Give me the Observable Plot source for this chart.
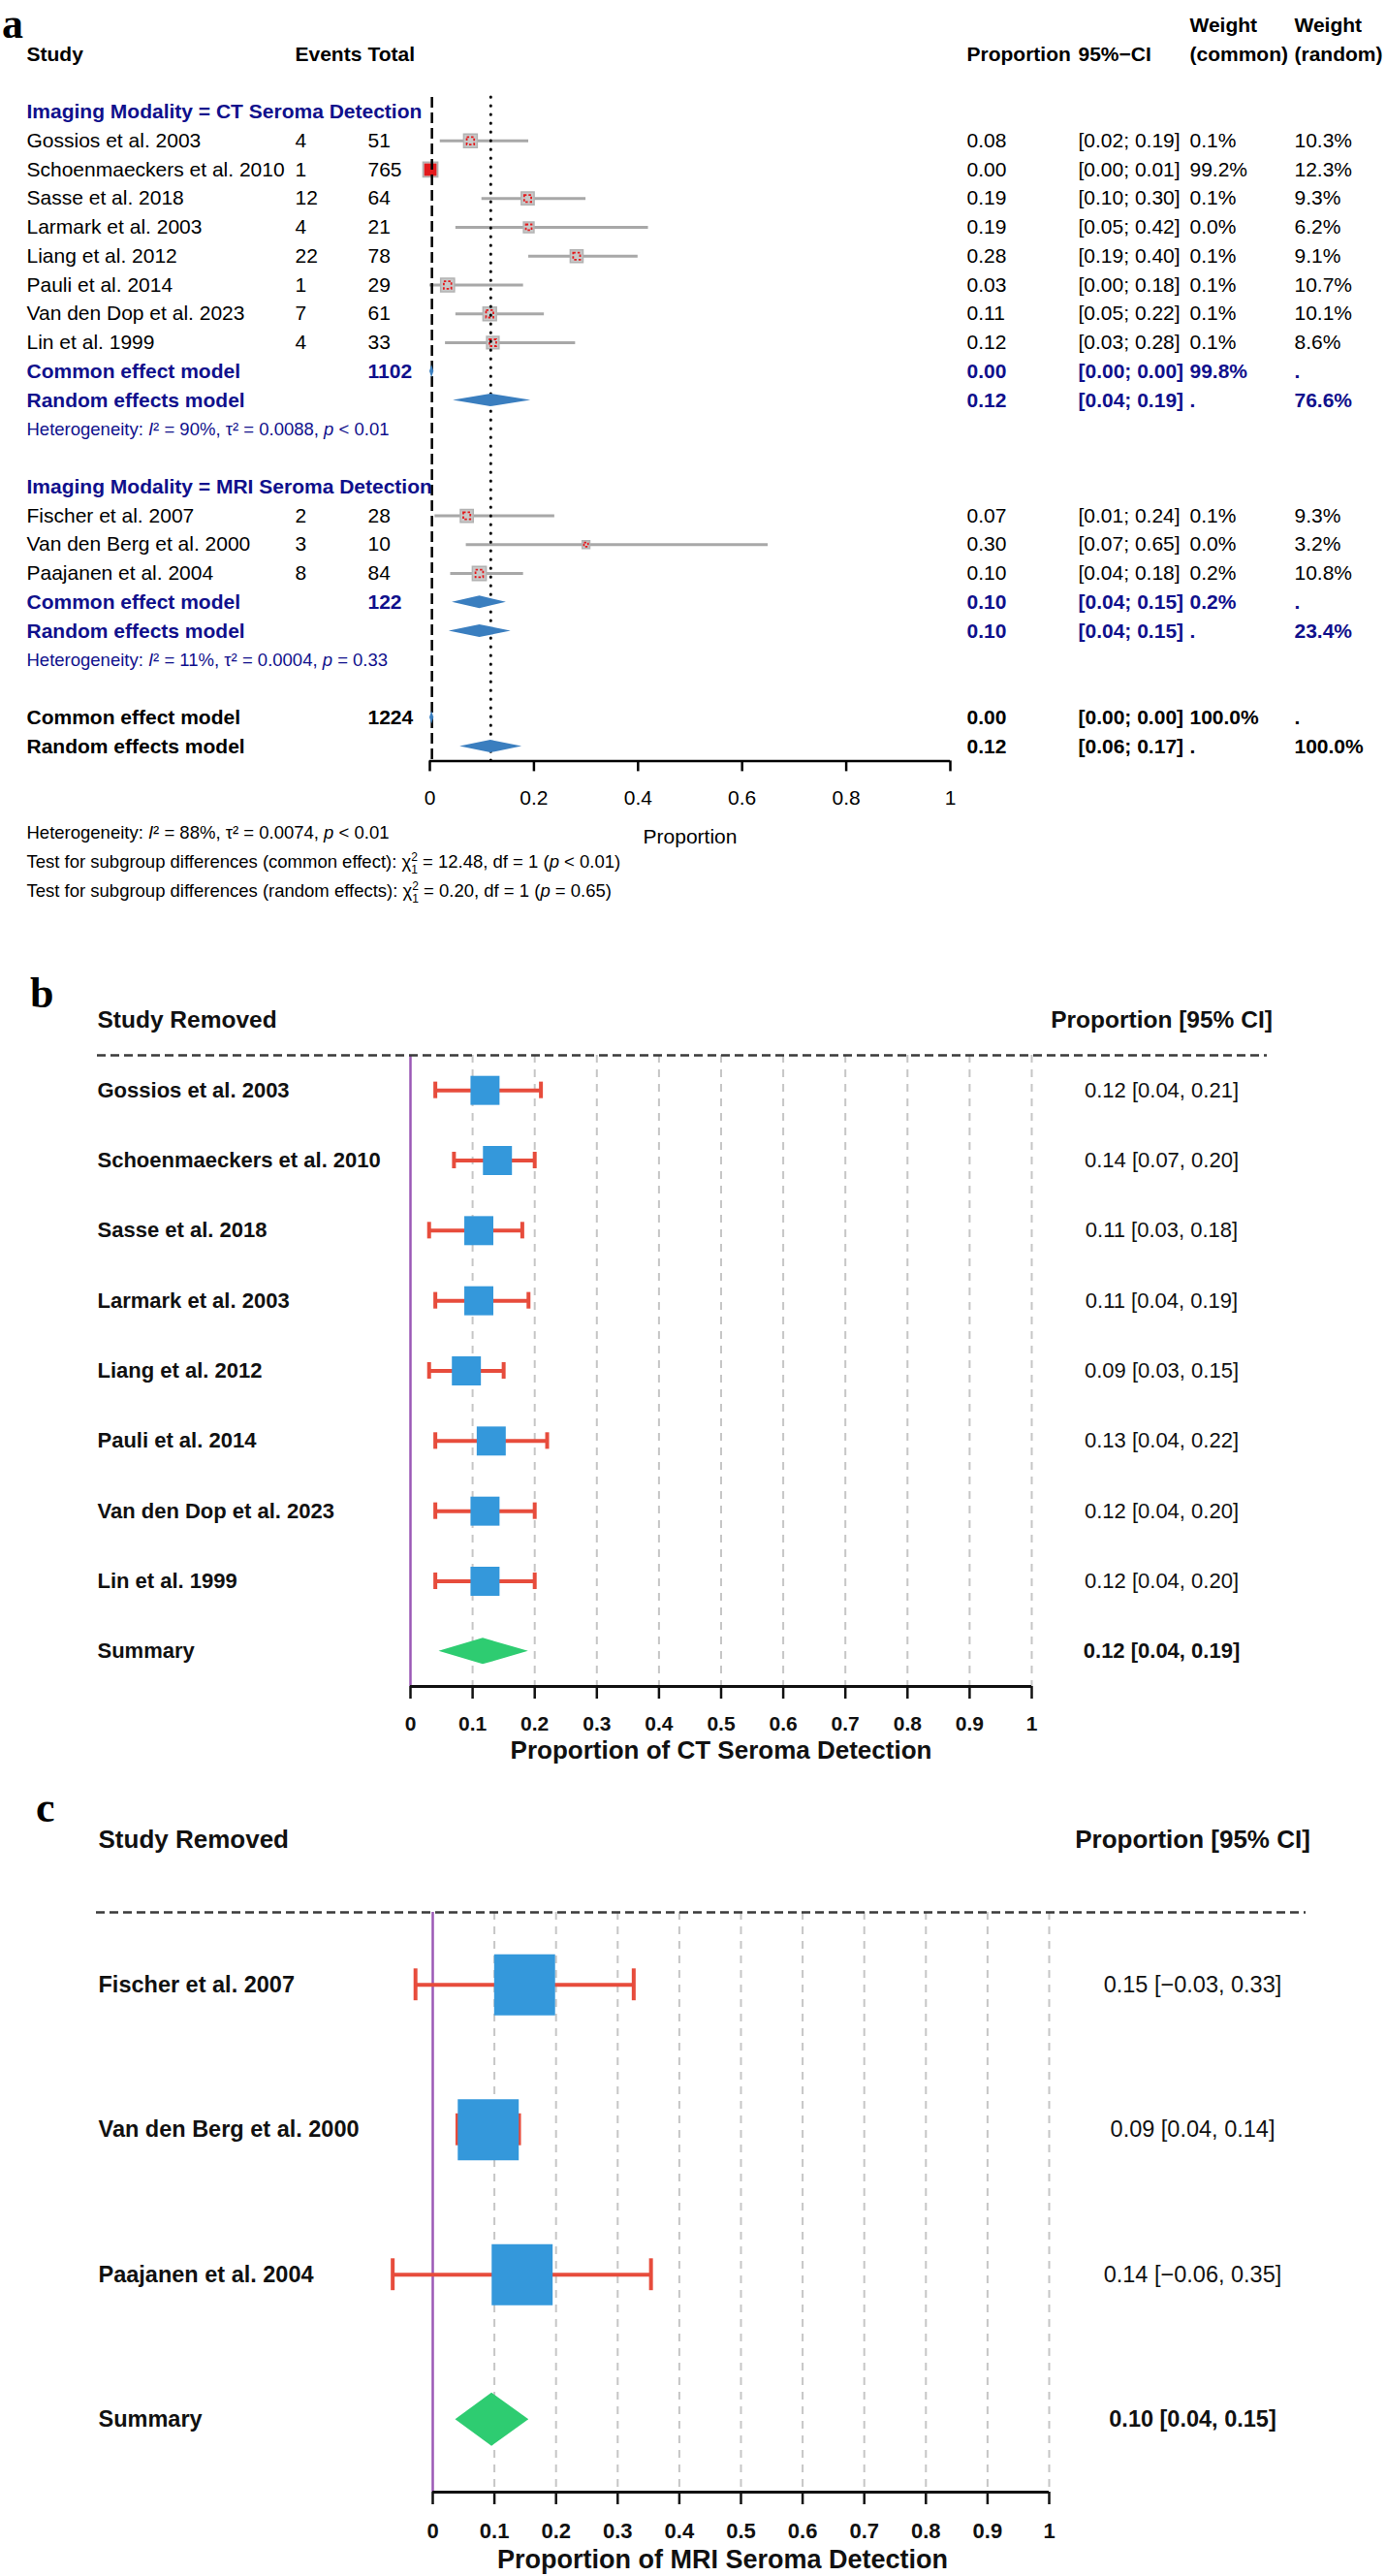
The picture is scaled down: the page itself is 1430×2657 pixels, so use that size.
<!DOCTYPE html>
<html><head><meta charset="utf-8">
<script src="https://cdn.jsdelivr.net/npm/d3@7"></script>
<script src="https://cdn.jsdelivr.net/npm/@observablehq/plot@0.6"></script>
<style>
body{margin:0;background:#fff;}
#page{position:relative;width:1430px;height:2657px;overflow:hidden;background:#fff;}
.panel{position:absolute;left:0;}
.tag{position:absolute;font-family:'Liberation Serif','Times New Roman',serif;font-weight:bold;font-size:44px;line-height:20px;color:#000;}
</style></head>
<body><div id="page">
<div id="pa" class="panel" style="top:0"></div>
<div id="pb" class="panel" style="top:990px"></div>
<div id="pc" class="panel" style="top:1840px"></div>
<div class="tag" style="left:2px;top:15px">a</div>
<div class="tag" style="left:31px;top:1015px">b</div>
<div class="tag" style="left:37px;top:1855px">c</div>
</div>
<script>
// ---------------- DATA: panel a ----------------
const ctStudies = ["Gossios et al. 2003","Schoenmaeckers et al. 2010","Sasse et al. 2018","Larmark et al. 2003","Liang et al. 2012","Pauli et al. 2014","Van den Dop et al. 2023","Lin et al. 1999"];
const ctEvents = [4,1,12,4,22,1,7,4];
const ctTotal = [51,765,64,21,78,29,61,33];
const ctProp = [0.078,0.001,0.188,0.190,0.282,0.034,0.115,0.121];
const ctPropText = ["0.08","0.00","0.19","0.19","0.28","0.03","0.11","0.12"];
const ctLower = [0.02,0.00,0.10,0.05,0.19,0.00,0.05,0.03];
const ctUpper = [0.19,0.01,0.30,0.42,0.40,0.18,0.22,0.28];
const ctWCommon = [0.1,99.2,0.1,0.0,0.1,0.1,0.1,0.1];
const ctWRandom = [10.3,12.3,9.3,6.2,9.1,10.7,10.1,8.6];

const mriStudies = ["Fischer et al. 2007","Van den Berg et al. 2000","Paajanen et al. 2004"];
const mriEvents = [2,3,8];
const mriTotal = [28,10,84];
const mriProp = [0.071,0.300,0.095];
const mriPropText = ["0.07","0.30","0.10"];
const mriLower = [0.01,0.07,0.04];
const mriUpper = [0.24,0.65,0.18];
const mriWCommon = [0.1,0.0,0.2];
const mriWRandom = [9.3,3.2,10.8];

const groupNames = ["CT Seroma Detection","MRI Seroma Detection"];
const groupTotals = [1102,122];
const commonEst = [0.004,0.096], commonLo = [0.000,0.043], commonHi = [0.008,0.147];
const commonText = ["0.00","0.10"], commonCIText = ["[0.00; 0.00]","[0.04; 0.15]"], commonW = ["99.8%","0.2%"];
const randomEst = [0.117,0.096], randomLo = [0.045,0.037], randomHi = [0.194,0.156];
const randomText = ["0.12","0.10"], randomCIText = ["[0.04; 0.19]","[0.04; 0.15]"], randomW = ["76.6%","23.4%"];
const hetText = ["Heterogeneity: I² = 90%, τ² = 0.0088, p < 0.01","Heterogeneity: I² = 11%, τ² = 0.0004, p = 0.33"];

const modelLabels = ["Common effect model","Random effects model"];
const overallTotal = 1224;
const overallEst = [0.004,0.117], overallLo = [0.000,0.058], overallHi = [0.008,0.177];
const overallText = ["0.00","0.12"], overallCIText = ["[0.00; 0.00]","[0.06; 0.17]"];
const overallWCommon = ["100.0%","."], overallWRandom = [".","100.0%"];

const footnotes = ["Heterogeneity: I² = 88%, τ² = 0.0074, p < 0.01",
  "Test for subgroup differences (common effect): χ²₁ = 12.48, df = 1 (p < 0.01)",
  "Test for subgroup differences (random effects): χ²₁ = 0.20, df = 1 (p = 0.65)"];

const headerA = [
  {row:-3, kind:"header", wc:"Weight", wr:"Weight"},
  {row:-2, kind:"header", label:"Study", events:"Events", total:"Total", propText:"Proportion", ci:"95%−CI", wc:"(common)", wr:"(random)"}
];
const xTicksA = [0,0.2,0.4,0.6,0.8,1];
const xLabelA = "Proportion";

// ---------------- DATA: panels b, c ----------------
const bEst = [0.12,0.14,0.11,0.11,0.09,0.13,0.12,0.12];
const bLower = [0.04,0.07,0.03,0.04,0.03,0.04,0.04,0.04];
const bUpper = [0.21,0.20,0.18,0.19,0.15,0.22,0.20,0.20];
const bText = ["0.12 [0.04, 0.21]","0.14 [0.07, 0.20]","0.11 [0.03, 0.18]","0.11 [0.04, 0.19]","0.09 [0.03, 0.15]","0.13 [0.04, 0.22]","0.12 [0.04, 0.20]","0.12 [0.04, 0.20]"];
const bSummary = [0.117,0.046,0.19];
const bSummaryText = "0.12 [0.04, 0.19]";

const cEst = [0.149,0.09,0.145];
const cLower = [-0.028,0.04,-0.065];
const cUpper = [0.326,0.14,0.354];
const cText = ["0.15 [−0.03, 0.33]","0.09 [0.04, 0.14]","0.14 [−0.06, 0.35]"];
const cSummary = [0.096,0.037,0.156];
const cSummaryText = "0.10 [0.04, 0.15]";

const looTicks = [0,0.1,0.2,0.3,0.4,0.5,0.6,0.7,0.8,0.9,1];
const looHeaders = ["Study Removed","Proportion [95% CI]"];
const summaryLabel = "Summary";
const titleB = "Proportion of CT Seroma Detection";
const titleC = "Proportion of MRI Seroma Detection";

// ---------------- helpers ----------------
const FONT = "'Liberation Sans', Arial, Helvetica, sans-serif";
const DARKBLUE = "#10108c";
const NS = "http://www.w3.org/2000/svg";

function enrich(svg) {
  svg.querySelectorAll("text").forEach(t => {
    const s = t.textContent;
    if (!/Heterogeneity|Test for/.test(s)) return;
    const re = /I(?=²)|(?<=[ (])p(?= [<=])|χ²₁/g;
    const parts = []; let last = 0;
    for (const m of s.matchAll(re)) {
      if (m.index > last) parts.push({text: s.slice(last, m.index)});
      parts.push({tok: m[0]});
      last = m.index + m[0].length;
    }
    if (last < s.length) parts.push({text: s.slice(last)});
    t.textContent = "";
    const add = (txt, attrs) => {
      const ts = document.createElementNS(NS, "tspan");
      for (const k in attrs) ts.setAttribute(k, attrs[k]);
      ts.textContent = txt; t.appendChild(ts);
    };
    let carry = 0;
    for (const p of parts) {
      const base = carry ? {dy: carry} : {};
      if (p.text != null) { add(p.text, base); carry = 0; }
      else if (p.tok === "χ²₁") {
        add("χ", base);
        add("2", {dy: -7, "font-size": 12});
        add("1", {dx: -6.7, dy: 13, "font-size": 12});
        carry = -6;
      } else { add(p.tok, {...base, "font-style": "italic"}); carry = 0; }
    }
  });
}

// ---------------- PANEL A ----------------
const tableA = [...headerA];
let row = 0;
const groupsData = [
  {names: ctStudies, ev: ctEvents, tot: ctTotal, p: ctProp, pt: ctPropText, lo: ctLower, hi: ctUpper, wc: ctWCommon, wr: ctWRandom},
  {names: mriStudies, ev: mriEvents, tot: mriTotal, p: mriProp, pt: mriPropText, lo: mriLower, hi: mriUpper, wc: mriWCommon, wr: mriWRandom}
];
groupNames.forEach((g, gi) => {
  const S = groupsData[gi];
  tableA.push({row: row++, kind: "group", label: `Imaging Modality = ${g}`});
  S.names.forEach((n, i) => {
    tableA.push({row: row++, kind: "study", label: n, events: String(S.ev[i]), total: String(S.tot[i]),
      est: S.p[i], propText: S.pt[i], lo: S.lo[i], hi: S.hi[i],
      ci: `[${S.lo[i].toFixed(2)}; ${S.hi[i].toFixed(2)}]`,
      wc: S.wc[i].toFixed(1) + "%", wr: S.wr[i].toFixed(1) + "%", wcVal: S.wc[i], wrVal: S.wr[i]});
  });
  tableA.push({row: row++, kind: "sub", label: modelLabels[0], total: String(groupTotals[gi]), est: commonEst[gi], lo: commonLo[gi], hi: commonHi[gi], propText: commonText[gi], ci: commonCIText[gi], wc: commonW[gi], wr: "."});
  tableA.push({row: row++, kind: "sub", label: modelLabels[1], est: randomEst[gi], lo: randomLo[gi], hi: randomHi[gi], propText: randomText[gi], ci: randomCIText[gi], wc: ".", wr: randomW[gi]});
  tableA.push({row: row++, kind: "het", label: hetText[gi]});
  row++;
});
modelLabels.forEach((m, k) => {
  tableA.push({row: row++, kind: "overall", label: m, total: k === 0 ? String(overallTotal) : null,
    est: overallEst[k], lo: overallLo[k], hi: overallHi[k], propText: overallText[k], ci: overallCIText[k],
    wc: overallWCommon[k], wr: overallWRandom[k]});
});
const lastRowA = row - 1;
footnotes.forEach((f, i) => tableA.push({row: lastRowA + 3 + i, kind: "foot", label: f}));

const yDomA = [-0.5, lastRowA + 0.5];
const studiesA = tableA.filter(d => d.kind === "study");
const modelsA = tableA.filter(d => (d.kind === "sub" || d.kind === "overall"));
const diaA = modelsA.flatMap((d, k) => [
  {id: k, x: d.lo, y1: d.row, y2: d.row},
  {id: k, x: d.est, y1: d.row - 0.22, y2: d.row + 0.22},
  {id: k, x: d.hi, y1: d.row, y2: d.row}
]);

const colsA = [["label","left",-416],["events","left",-139],["total","left",-64],["propText","right",17],["ci","right",132],["wc","right",247],["wr","right",355]];
const styleA = {
  header: {fontSize: 21, fontWeight: "bold", fill: "#000"},
  group: {fontSize: 21, fontWeight: "bold", fill: DARKBLUE},
  study: {fontSize: 21, fill: "#000"},
  sub: {fontSize: 21, fontWeight: "bold", fill: DARKBLUE},
  het: {fontSize: 18.5, fill: DARKBLUE},
  overall: {fontSize: 21, fontWeight: "bold", fill: "#000"},
  foot: {fontSize: 18.5, fill: "#000"}
};
const textMarksA = [];
for (const kind in styleA) {
  for (const [field, anchor, dx] of colsA) {
    const data = tableA.filter(d => d.kind === kind && d[field] != null && d[field] !== "");
    if (!data.length) continue;
    textMarksA.push(Plot.text(data, {y: "row", text: field, frameAnchor: anchor, dx, textAnchor: "start", lineAnchor: "middle", fontFamily: FONT, ...styleA[kind]}));
  }
}

const heightA = 935;
const plotA = Plot.plot({
  width: 1430, height: heightA,
  marginTop: 100.1, marginBottom: heightA - 784.4, marginLeft: 443, marginRight: 450,
  style: {background: "transparent", fontFamily: FONT, overflow: "visible"},
  x: {domain: [0, 1], label: null},
  y: {domain: yDomA, reverse: true, axis: null},
  r: {type: "sqrt", domain: [0, d3.max([...ctWRandom, ...mriWRandom])], range: [0, 8.6]},
  marks: [
    Plot.ruleY(studiesA, {y: "row", x1: "lo", x2: "hi", stroke: "#a8a8a8", strokeWidth: 3}),
    Plot.dot(studiesA, {x: "est", y: "row", r: "wrVal", symbol: "square", fill: "#c8c8c8", stroke: "#b2b2b2", strokeWidth: 1.5}),
    Plot.dot(studiesA.filter(d => d.wcVal < 50), {x: "est", y: "row", r: d => d.wrVal * 0.3, symbol: "square", fill: "none", stroke: "#e3191c", strokeWidth: 1.8, strokeDasharray: "2.5,2"}),
    Plot.dot(studiesA.filter(d => d.wcVal >= 50), {x: "est", y: "row", r: d => d.wrVal * 0.7, symbol: "square", fill: "#e3191c"}),
    Plot.ruleX([overallEst[0]], {y1: yDomA[0], y2: yDomA[1], stroke: "#000", strokeWidth: 2.5, strokeDasharray: "11,5"}),
    Plot.ruleX([overallEst[1]], {y1: yDomA[0], y2: yDomA[1], stroke: "#000", strokeWidth: 3, strokeDasharray: "0.1,8.9", strokeLinecap: "round"}),
    Plot.areaY(diaA, {x: "x", y1: "y1", y2: "y2", z: "id", fill: "#3a7ebf", curve: "linear"}),
    Plot.ruleY([yDomA[1]], {stroke: "#000", strokeWidth: 2.5}),
    Plot.axisX(xTicksA, {tickSize: 11, tickPadding: 19, stroke: "#000", strokeWidth: 2.5, fill: "#000", fontSize: 21, fontFamily: FONT, tickFormat: d => String(d), label: null}),
    Plot.text([xLabelA], {frameAnchor: "bottom", dy: 78.6, text: d => d, fontSize: 21, fill: "#000", fontFamily: FONT, lineAnchor: "middle"}),
    ...textMarksA
  ]
});
document.getElementById("pa").append(plotA);
enrich(plotA);

// ---------------- PANELS B, C ----------------
function looPlot(cfg) {
  const rows = cfg.names.map((n, i) => ({row: i, name: n, est: cfg.est[i], lo: cfg.lo[i], hi: cfg.hi[i], text: cfg.texts[i]}));
  const s = {row: rows.length, name: summaryLabel, est: cfg.sum[0], lo: cfg.sum[1], hi: cfg.sum[2], text: cfg.sumText};
  const n = rows.length + 1;
  const yDom = [-0.5, n - 0.5];
  const dia = [
    {x: s.lo, y1: s.row, y2: s.row},
    {x: s.est, y1: s.row - cfg.diaH, y2: s.row + cfg.diaH},
    {x: s.hi, y1: s.row, y2: s.row}
  ];
  const headerRow = yDom[0] - 0.5;
  return Plot.plot({
    width: 1430, height: cfg.height,
    marginTop: cfg.mt, marginBottom: cfg.mb, marginLeft: cfg.ml, marginRight: cfg.mr,
    style: {background: "transparent", fontFamily: FONT, overflow: "visible"},
    x: {domain: [0, 1], label: null},
    y: {domain: yDom, reverse: true, axis: null},
    marks: [
      Plot.ruleX(looTicks.filter(t => t > 0), {y1: yDom[0], y2: yDom[1], stroke: "#c6c6c6", strokeWidth: 2, strokeDasharray: "8,7"}),
      Plot.ruleX([0], {y1: yDom[0], y2: yDom[1], stroke: "#9b59b6", strokeWidth: 2.5}),
      Plot.ruleY([yDom[0]], {insetLeft: cfg.insetL, insetRight: cfg.insetR, stroke: "#3a3a3a", strokeWidth: 2.5, strokeDasharray: "9,5"}),
      Plot.ruleY([yDom[1]], {stroke: "#111", strokeWidth: 3}),
      Plot.axisX(looTicks, {tickSize: 13, tickPadding: cfg.tickPad, stroke: "#111", strokeWidth: 2.5, fill: "#111", fontSize: cfg.tickFs, fontWeight: "bold", fontFamily: FONT, tickFormat: d => String(d), label: null}),
      Plot.ruleY(rows, {y: "row", x1: "lo", x2: "hi", stroke: "#e74c3c", strokeWidth: 4}),
      Plot.ruleX(rows, {x: "lo", y1: d => d.row - cfg.capH, y2: d => d.row + cfg.capH, stroke: "#e74c3c", strokeWidth: 4}),
      Plot.ruleX(rows, {x: "hi", y1: d => d.row - cfg.capH, y2: d => d.row + cfg.capH, stroke: "#e74c3c", strokeWidth: 4}),
      Plot.dot(rows, {x: "est", y: "row", symbol: "square", r: cfg.boxR, fill: "#3498db"}),
      Plot.areaY(dia, {x: "x", y1: "y1", y2: "y2", fill: "#2ecc71", curve: "linear"}),
      Plot.text([looHeaders[0]], {text: d => d, frameAnchor: "left", dx: cfg.nameDx, y: headerRow, textAnchor: "start", fontSize: cfg.headFs, fontWeight: "bold", fill: "#111", fontFamily: FONT}),
      Plot.text([looHeaders[1]], {text: d => d, frameAnchor: "right", dx: cfg.valDx, y: headerRow, textAnchor: "middle", fontSize: cfg.headFs, fontWeight: "bold", fill: "#111", fontFamily: FONT}),
      Plot.text([...rows, s], {y: "row", text: "name", frameAnchor: "left", dx: cfg.nameDx, textAnchor: "start", fontSize: cfg.rowFs, fontWeight: "bold", fill: "#111", fontFamily: FONT}),
      Plot.text(rows, {y: "row", text: "text", frameAnchor: "right", dx: cfg.valDx, textAnchor: "middle", fontSize: cfg.rowFs, fill: "#111", fontFamily: FONT}),
      Plot.text([s], {y: "row", text: "text", frameAnchor: "right", dx: cfg.valDx, textAnchor: "middle", fontSize: cfg.rowFs, fontWeight: "bold", fill: "#111", fontFamily: FONT}),
      Plot.text([cfg.title], {text: d => d, frameAnchor: "bottom", dy: cfg.titleDy, dx: cfg.titleDx, lineAnchor: "middle", fontSize: cfg.titleFs, fontWeight: "bold", fill: "#111", fontFamily: FONT})
    ]
  });
}

const plotB = looPlot({
  names: ctStudies, est: bEst, lo: bLower, hi: bUpper, texts: bText, sum: bSummary, sumText: bSummaryText,
  height: 830, mt: 98, mb: 81, ml: 423, mr: 366,
  insetL: -323, insetR: -243, nameDx: -323, valDx: 134,
  boxR: 16.9, capH: 0.118, diaH: 0.187, tickPad: 18, tickFs: 21,
  headFs: 24.5, rowFs: 22, title: titleB, titleDy: 66, titleDx: 0, titleFs: 26
});
document.getElementById("pb").append(plotB);

const plotC = looPlot({
  names: mriStudies, est: cEst, lo: cLower, hi: cUpper, texts: cText, sum: cSummary, sumText: cSummaryText,
  height: 817, mt: 132, mb: 87, ml: 446, mr: 348,
  insetL: -347, insetR: -265, nameDx: -345, valDx: 148,
  boxR: 35.5, capH: 0.11, diaH: 0.184, tickPad: 19, tickFs: 22,
  headFs: 26, rowFs: 23.5, title: titleC, titleDy: 70, titleDx: -19, titleFs: 27
});
document.getElementById("pc").append(plotC);
</script>
</body></html>
